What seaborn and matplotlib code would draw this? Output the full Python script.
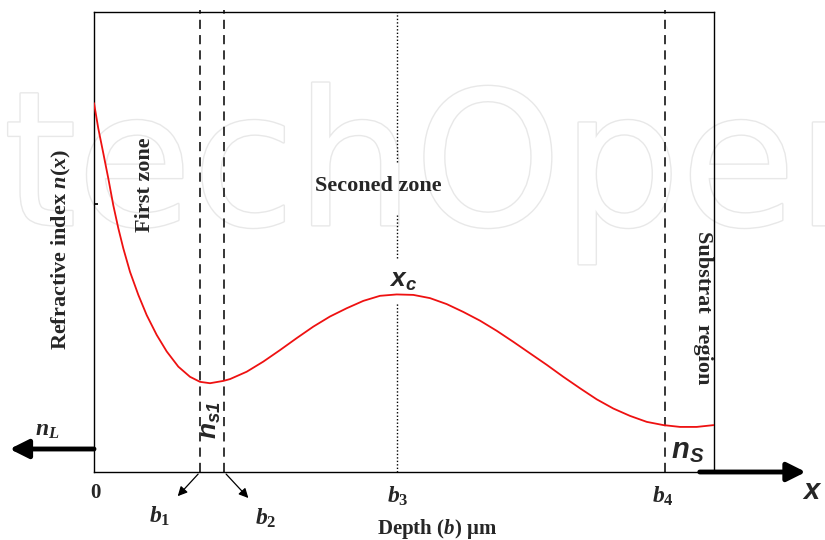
import numpy as np
import pandas as pd
import matplotlib
matplotlib.use('Agg')
import matplotlib.pyplot as plt
import matplotlib.patheffects as pe
import seaborn as sns

# refractive index profile (depth in arbitrary units 0-10)
depth = [0.0, 0.069, 0.150, 0.231, 0.311, 0.392, 0.473, 0.581, 0.715, 0.850,
         1.011, 1.173, 1.360, 1.548, 1.710, 1.871, 2.085, 2.194, 2.463, 2.731,
         3.000, 3.269, 3.537, 3.806, 4.076, 4.344, 4.613, 4.882, 5.150, 5.419,
         5.689, 5.956, 6.226, 6.495, 6.763, 7.032, 7.302, 7.569, 7.839, 8.108,
         8.376, 8.645, 8.915, 9.182, 9.452, 9.721, 10.0]
n_index = [8.02, 7.47, 6.93, 6.38, 5.80, 5.30, 4.86, 4.35, 3.85, 3.41,
           2.98, 2.62, 2.29, 2.07, 1.96, 1.93, 1.98, 2.02, 2.18, 2.40,
           2.65, 2.91, 3.16, 3.38, 3.56, 3.72, 3.83, 3.86, 3.85, 3.78,
           3.65, 3.48, 3.29, 3.07, 2.83, 2.58, 2.33, 2.07, 1.82, 1.58,
           1.38, 1.22, 1.09, 1.02, 0.98, 0.98, 1.02]

# zone boundaries
b_names = ['b_1', 'b_2', 'b_3', 'b_4']
b_pos = [1.71, 2.10, 4.89, 9.21]

df = pd.DataFrame({'depth': depth, 'n': n_index})

sns.set_theme(style='white')
plt.rcParams['font.family'] = ['Liberation Serif', 'DejaVu Serif']
plt.rcParams['mathtext.fontset'] = 'custom'
plt.rcParams['mathtext.rm'] = 'Liberation Serif:bold'
plt.rcParams['mathtext.it'] = 'Liberation Serif:bold:italic'
plt.rcParams['mathtext.bf'] = 'Liberation Serif:bold'
plt.rcParams['mathtext.sf'] = 'Liberation Sans:bold:italic'

fig = plt.figure(figsize=(8.25, 5.4), dpi=100)
ax = fig.add_axes([94/825, 68/540, 620/825, 460/540])
ax.patch.set_alpha(0)

# faint watermark
fig.text(0.004, 0.583, 'techOpen', fontsize=135, family='DejaVu Sans', color='white',
         zorder=-5, path_effects=[pe.Stroke(linewidth=2.0, foreground='#e8e8e8'), pe.Normal()])

sns.lineplot(data=df, x='depth', y='n', color='#ee1111', linewidth=1.3, ax=ax, zorder=3)

ax.set_xlim(0, 10)
ax.set_ylim(0, 10)
for s in ax.spines.values():
    s.set_color('black')
    s.set_linewidth(1.0)
ax.set_xticks([])
ax.set_yticks([5.83])
ax.set_yticklabels([''])
ax.tick_params(axis='y', direction='in', length=3, color='black', left=True)

# zone boundaries
for name, xb in zip(b_names, b_pos):
    if name == 'b_3':
        for lo, hi in [(0.0, 0.37), (0.465, 0.559), (0.674, 1.0)]:
            ax.axvline(xb, ymin=lo, ymax=hi, color='black', linestyle=(0, (1, 1.5)), linewidth=1.0)
    else:
        ax.axvline(xb, ymin=0, ymax=1.005, color='black', linestyle=(0, (6, 4)), linewidth=1.1,
                   clip_on=False)

arr = dict(arrowstyle='-|>', color='black', lw=0.9, mutation_scale=14)
ax.annotate('', xy=(1.32, -0.57), xytext=(b_pos[0], 0), arrowprops=arr, annotation_clip=False)
ax.annotate('', xy=(2.52, -0.61), xytext=(b_pos[1], 0), arrowprops=arr, annotation_clip=False)

thick = dict(arrowstyle='-|>', color='black', lw=3.5, mutation_scale=28, shrinkA=0, shrinkB=0)
ax.annotate('', xy=(-1.36, 0.5), xytext=(0, 0.5), arrowprops=thick, annotation_clip=False)
ax.annotate('', xy=(11.48, 0.0), xytext=(9.77, 0.0), arrowprops=thick, annotation_clip=False)

# labels under the axis
ax.text(0.03, -0.46, '0', fontsize=15, fontweight='bold', ha='center', va='center')
ax.text(1.06, -0.96, r'$b_{\mathit{1}}$', fontsize=17, ha='center', va='center')
ax.text(2.77, -1.00, r'$b_{\mathit{2}}$', fontsize=17, ha='center', va='center')
ax.text(4.90, -0.54, r'$b_{\mathit{3}}$', fontsize=17, ha='center', va='center')
ax.text(9.18, -0.54, r'$b_{\mathit{4}}$', fontsize=17, ha='center', va='center')
ax.text(11.58, -0.43, r'$\mathsf{x}$', fontsize=21, ha='center', va='center')

ax.set_xlabel(r'Depth ($b$) $\mathrm{\mu}$m', fontsize=15, fontweight='bold')
ax.xaxis.set_label_coords(0.553, -0.097)
ax.set_ylabel(r'Refractive index $n(x)$', fontsize=16, fontweight='bold')
ax.yaxis.set_label_coords(-0.034, 0.483)

# zone annotations
ax.text(0.82, 6.24, 'First zone', fontsize=16, fontweight='bold', rotation=90, ha='center', va='center')
ax.text(4.58, 6.22, 'Seconed zone', fontsize=16, fontweight='bold', ha='center', va='center')
ax.text(9.82, 3.57, 'Substrat  region', fontsize=16, fontweight='bold', rotation=270,
        ha='center', va='center')
ax.text(4.98, 4.13, r'$\mathsf{x_{c}}$', fontsize=19, ha='center', va='center')
ax.text(1.90, 1.13, r'$\mathsf{n_{s1}}$', fontsize=19, rotation=90, ha='center', va='center')
ax.text(9.58, 0.43, r'$\mathsf{n_{S}}$', fontsize=21, ha='center', va='center')
ax.text(-0.76, 0.91, r'$n_{L}$', fontsize=17, ha='center', va='center')

fig.savefig('out.png', dpi=100)
